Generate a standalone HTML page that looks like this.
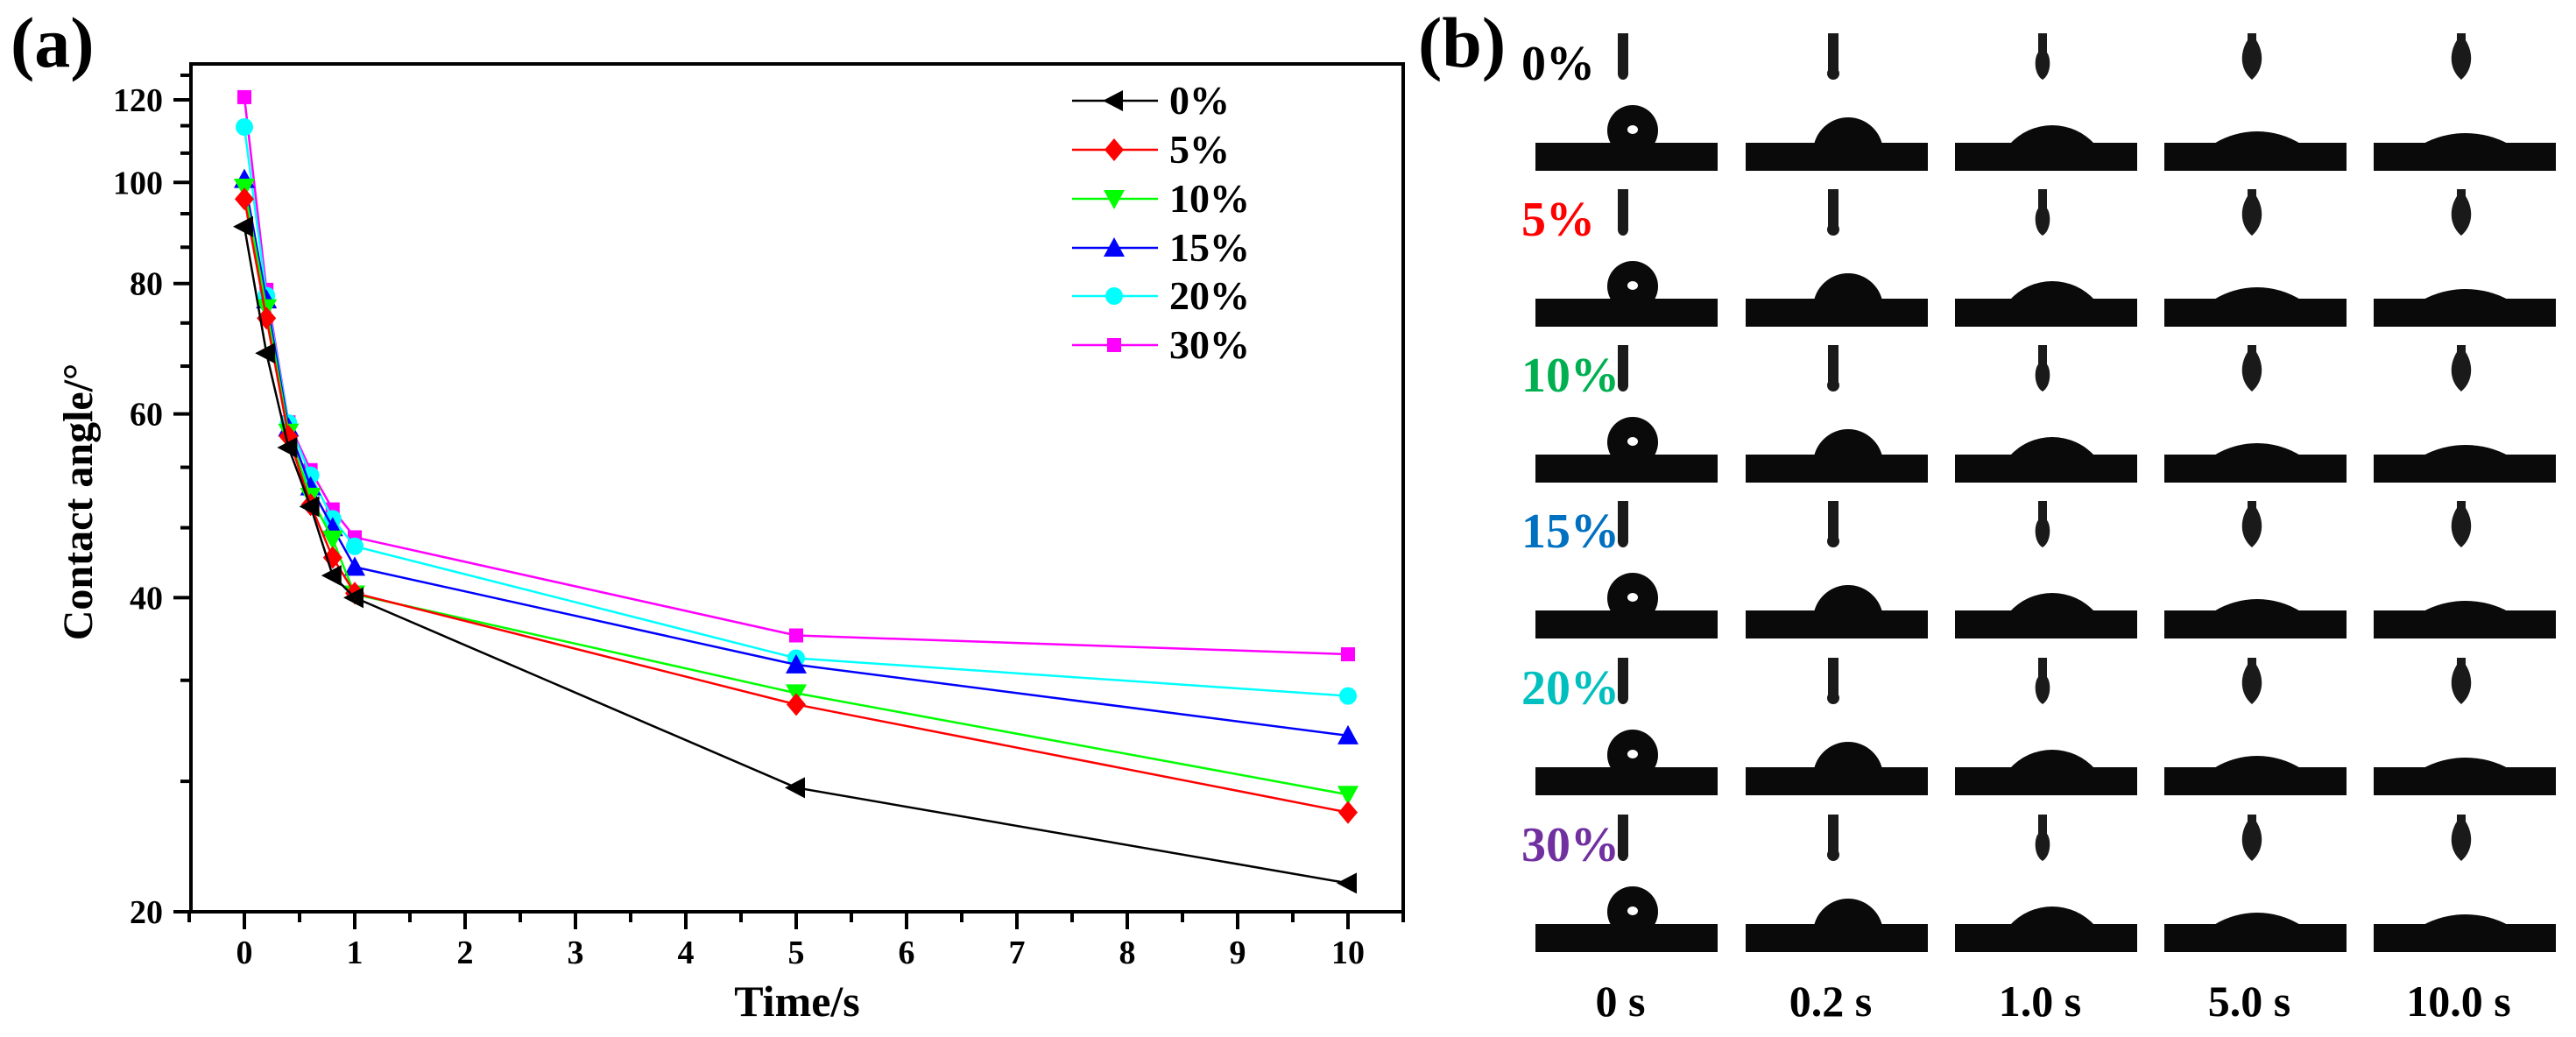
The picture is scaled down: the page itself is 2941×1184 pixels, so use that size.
<!DOCTYPE html>
<html><head><meta charset="utf-8"><style>
html,body{margin:0;padding:0;background:#fff;}
svg, svg text{font-family:"Liberation Serif","Noto Serif CJK SC",serif;font-weight:bold;}
</style></head><body>
<svg id="fig" width="2941" height="1179" viewBox="0 0 2941 1179" xmlns="http://www.w3.org/2000/svg">
<text x="12" y="76" font-size="82">(a)</text>
<text x="1619" y="76" font-size="82">(b)</text>
<g id="chart"></g>
<g id="photos"></g>
</svg>
<script>
const times = [0, 0.2, 0.4, 0.6, 0.8, 1, 5, 10];
const series0 = [90.7, 68.6, 55.7, 48.9, 42.0, 40.0, 26.3, 21.3];
const series5 = [96.4, 74.1, 57.1, 49.1, 43.7, 40.4, 31.6, 24.9];
const series10 = [98.9, 75.8, 57.6, 50.0, 45.5, 40.3, 32.4, 25.9];
const series15 = [100.7, 77.2, 58.2, 51.1, 46.7, 42.8, 34.5, 29.5];
const series20 = [113.0, 77.9, 58.8, 52.4, 47.6, 44.8, 35.0, 32.2];
const series30 = [120.7, 78.9, 58.9, 53.0, 48.6, 45.7, 36.8, 35.3];
const seriesNames = ["0%", "5%", "10%", "15%", "20%", "30%"];
const xTicks = [0,1,2,3,4,5,6,7,8,9,10];
const yTicks = [20,40,60,80,100,120];
const yMinor = [26.67,33.33,46.67,53.33,66.67,73.33,86.67,93.33,106.67,113.33,126.67];
const rowLabels = ["0%","5%","10%","15%","20%","30%"];
const colLabels = ["0 s","0.2 s","1.0 s","5.0 s","10.0 s"];

const NS="http://www.w3.org/2000/svg";
function mk(tag,attrs,parent){const e=document.createElementNS(NS,tag);for(const k in attrs)e.setAttribute(k,attrs[k]);parent.appendChild(e);return e;}
const L=218,R=1602,T=73,B=1041;
const xs=v=>279+126*v;
const ys=v=>1041-517.4*Math.log(v/20);
const chart=document.getElementById('chart');

const fr=mk('rect',{x:L,y:T,width:R-L,height:B-T,fill:'none',stroke:'#000','stroke-width':4},chart);


for(let v=-0.5;v<=10.5;v+=0.5){
  const major=Math.abs(v-Math.round(v))<1e-6;
  const t=mk('line',{x1:xs(v),x2:xs(v),y1:B,y2:B+(major?20:12),stroke:'#000','stroke-width':4},chart);
  
  
}
xTicks.forEach(v=>{
  const t=mk('text',{x:xs(v),y:1100,'font-size':38,'text-anchor':'middle'},chart);t.textContent=v;
  
  
});
yTicks.forEach(v=>{
  const t=mk('line',{x1:L-20,x2:L,y1:ys(v),y2:ys(v),stroke:'#000','stroke-width':4},chart);
  
  
  const l=mk('text',{x:186,y:ys(v)+13,'font-size':38,'text-anchor':'end'},chart);l.textContent=v;
  
  
});
yMinor.forEach(v=>{
  const t=mk('line',{x1:L-12,x2:L,y1:ys(v),y2:ys(v),stroke:'#000','stroke-width':4},chart);
  
  
});
const xt=mk('text',{x:910,y:1160,'font-size':50,'text-anchor':'middle'},chart);xt.textContent='Time/s';


const yt=mk('text',{x:0,y:0,'font-size':48,'text-anchor':'middle',transform:'translate(105,573) rotate(-90)'},chart);yt.textContent='Contact angle/°';



const colors=['#000000','#ff0000','#00ff00','#0000ff','#00ffff','#ff00ff'];
const shapes=['left','diamond','down','up','circle','square'];
const all=[series0,series5,series10,series15,series20,series30];
function marker(g,shape,cx,cy,c){
  let e;
  if(shape==='circle') e=mk('circle',{cx:cx,cy:cy,r:10,fill:c},g);
  else if(shape==='square') e=mk('rect',{x:cx-8,y:cy-8,width:16,height:16,fill:c},g);
  else{
    let p;
    if(shape==='left') p=[[cx-13,cy],[cx+10,cy-12],[cx+10,cy+12]];
    if(shape==='diamond') p=[[cx,cy-13],[cx+11,cy],[cx,cy+13],[cx-11,cy]];
    if(shape==='down') p=[[cx-12,cy-10],[cx+12,cy-10],[cx,cy+12]];
    if(shape==='up') p=[[cx-12,cy+10],[cx+12,cy+10],[cx,cy-12]];
    e=mk('polygon',{points:p.map(q=>q.join(',')).join(' '),fill:c},g);
  }
  return e;
}
for(let i=5;i>=0;i--){
  const g=mk('g',{},chart);
  
  
  const pts=times.map((t,j)=>xs(t)+','+ys(all[i][j])).join(' ');
  const pl=mk('polyline',{points:pts,fill:'none',stroke:colors[i],'stroke-width':2.5},g);
  
  
  times.forEach((t,j)=>{
    const m=marker(g,shapes[i],xs(t),ys(all[i][j]),colors[i]);
    
    
  });
}
const lg=mk('g',{},chart);


const legY=[115,171,227,283,338,394];
seriesNames.forEach((n,i)=>{
  const g=mk('g',{},lg);
  
  
  mk('line',{x1:1224,x2:1322,y1:legY[i],y2:legY[i],stroke:colors[i],'stroke-width':2.5},g);
  marker(g,shapes[i],1272,legY[i],colors[i]);
  const t=mk('text',{x:1335,y:legY[i]+15,'font-size':46},g);t.textContent=n;
});

const photos=document.getElementById('photos');
const colX=[1753,1993,2232,2471,2710];
const rowBottom=[195,373,551,729,908,1087];
const rowColors=['#000000','#ff0000','#00b050','#0070c0','#00bfbf','#7030a0'];
const capShapes=[[82,58,44],[78,78,31],[62,98,22],[55,102,15],[55,100,13]];
rowLabels.forEach((lab,r)=>{
  const Bt=rowBottom[r];
  const t=mk('text',{x:1737,y:Bt-104,'font-size':56,fill:rowColors[r]},photos);t.textContent=lab;
  
  
  colX.forEach((cx,c)=>{
    const g=mk('g',{},photos);
    
    
    const nx=cx+100,top=Bt-157,bot=Bt-104;
    if(c<=1){
      mk('rect',{x:nx-6,y:top,width:12,height:bot-top-6,fill:'#1a1a1a'},g);
      mk('ellipse',{cx:nx,cy:bot-7,rx:c?7:6,ry:7,fill:'#1a1a1a'},g);
    }else if(c===2){
      mk('path',{d:`M${nx-5},${top} L${nx+5},${top} L${nx+5},${top+22} C${nx+10},${top+28} ${nx+10},${bot-6} ${nx},${bot} C${nx-10},${bot-6} ${nx-10},${top+28} ${nx-5},${top+22} Z`,fill:'#1a1a1a'},g);
    }else{
      mk('path',{d:`M${nx-5},${top} L${nx+5},${top} L${nx+5},${top+8} C${nx+14},${top+22} ${nx+14},${bot-12} ${nx},${bot} C${nx-14},${bot-12} ${nx-14},${top+22} ${nx-5},${top+8} Z`,fill:'#1a1a1a'},g);
    }
    const s=capShapes[c];const x0=cx+s[0],w=s[1],h=s[2],base=Bt-31;
    if(c===0){
      const rr=29;
      mk('circle',{cx:x0+w/2,cy:base-h+rr,r:rr,fill:'#0a0a0a'},g);
      mk('ellipse',{cx:x0+w/2,cy:base-16,rx:6,ry:5,fill:'#fff'},g);
    }else{
      const rad=(w*w/4+h*h)/(2*h);
      mk('path',{d:`M${x0},${base+1} A${rad},${rad} 0 0 1 ${x0+w},${base+1} Z`,fill:'#0a0a0a'},g);
    }
    mk('rect',{x:cx,y:Bt-32,width:208,height:32,fill:'#0a0a0a'},g);
  });
});
colLabels.forEach((lab,c)=>{
  const t=mk('text',{x:colX[c]+97,y:1160,'font-size':50,'text-anchor':'middle'},photos);t.textContent=lab;
  
  
});
</script>
</body></html>
